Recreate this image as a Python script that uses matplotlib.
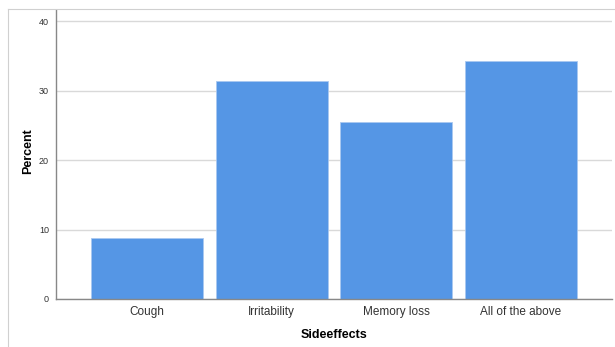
import matplotlib
matplotlib.use("Agg")
import matplotlib.pyplot as plt
from matplotlib.lines import Line2D

plt.rcParams['font.family'] = ['Liberation Sans', 'DejaVu Sans']

categories = ["Cough", "Irritability", "Memory loss", "All of the above"]
percent = [8.8, 31.4, 25.5, 34.3]
yticks = [0, 10, 20, 30, 40]

fig = plt.figure(figsize=(6.15, 3.47), dpi=100)
ax = fig.add_axes([56/615, 1-299/347, (612-56)/615, (299-10)/347])

# outer frame (left and top edges)
fig.add_artist(Line2D([8/615, 8/615], [0, 1-9/347], color='#d0d0d0', lw=0.8))
fig.add_artist(Line2D([8/615, 1], [1-9/347, 1-9/347], color='#d0d0d0', lw=0.8))

ax.set_axisbelow(True)
ax.yaxis.grid(True, color='#d9d9d9', lw=1.0)
ax.bar(range(len(categories)), percent, width=0.9, color='#5596e5',
       edgecolor='#a9c8f0', linewidth=0.6)

ax.set_xlim(-0.73, 3.73)
ax.set_ylim(0, 41.6)
ax.set_yticks(yticks)
ax.set_xticks(range(len(categories)))
ax.set_xticklabels(categories, fontsize=8.5, color='#333333')
ax.tick_params(axis='y', length=0, labelsize=6.5, labelcolor='#333333', pad=5)
ax.tick_params(axis='x', length=0, pad=5)

for s in ['top', 'right']:
    ax.spines[s].set_visible(False)
for s in ['left', 'bottom']:
    ax.spines[s].set_color('#888888')
    ax.spines[s].set_linewidth(1.0)

ax.set_ylabel("Percent", fontsize=9, fontweight='bold')
ax.yaxis.set_label_coords(-22/556, 0.51)
ax.set_xlabel("Sideeffects", fontsize=9, fontweight='bold', labelpad=8)

fig.savefig("out.png", dpi=100)
